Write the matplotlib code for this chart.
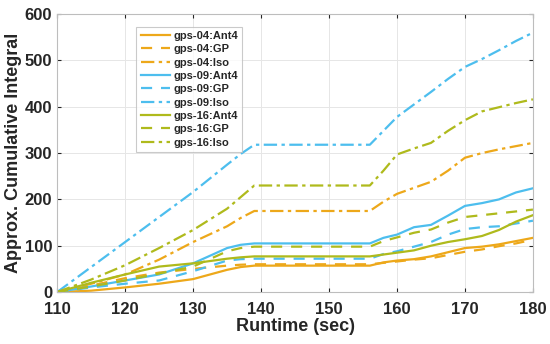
import matplotlib
matplotlib.use("Agg")
import matplotlib.pyplot as plt

# runtime samples (sec)
t = [110, 115, 120, 125, 130, 135, 137, 139, 156, 158, 160, 162.5, 165, 167.5, 170, 172.5, 175, 177.5, 180]

# cumulative integrals
gps04_ant4 = [0, 3, 10, 18, 28, 48, 54, 57, 57, 64, 68, 71, 77, 86, 95, 98, 103, 110, 117]
gps04_gp   = [0, 14, 30, 42, 50, 57, 59, 60, 60, 63, 66, 70, 73, 80, 87, 92, 99, 105, 113]
gps04_iso  = [0, 18, 38, 70, 108, 142, 160, 175, 175, 195, 212, 225, 238, 262, 290, 300, 308, 315, 322]
gps09_ant4 = [0, 12, 25, 38, 62, 95, 102, 105, 105, 117, 124, 140, 145, 165, 186, 192, 200, 215, 224]
gps09_gp   = [0, 10, 18, 25, 45, 68, 71, 72, 72, 82, 88, 98, 108, 124, 136, 140, 142, 148, 154]
gps09_iso  = [0, 54, 108, 162, 216, 275, 298, 318, 318, 348, 378, 405, 432, 460, 486, 503, 522, 542, 560]
gps16_ant4 = [0, 20, 38, 55, 62, 72, 75, 77, 77, 81, 85, 90, 100, 108, 114, 121, 134, 152, 166]
gps16_gp   = [0, 12, 25, 40, 55, 88, 95, 98, 98, 110, 118, 128, 135, 150, 162, 166, 170, 174, 178]
gps16_iso  = [0, 27, 58, 95, 134, 180, 205, 230, 230, 262, 297, 310, 322, 348, 371, 390, 399, 408, 416]

orange = "#EDA81A"
blue = "#4DBEEE"
green = "#AFBA1C"

plt.rcParams['font.family'] = ['Liberation Sans', 'DejaVu Sans']
plt.rcParams['font.weight'] = 'bold'

fig = plt.figure(figsize=(5.5, 3.44), dpi=100)
ax = fig.add_axes([0.104, 0.151, 0.865, 0.808])

lw = 1.6
ax.plot(t, gps04_ant4, color=orange, lw=lw, ls='-', label='gps-04:Ant4')
ax.plot(t, gps04_gp, color=orange, lw=lw, ls=(0, (5, 4)), label='gps-04:GP')
ax.plot(t, gps04_iso, color=orange, lw=lw, ls=(0, (6, 2, 1.5, 2)), label='gps-04:Iso')
ax.plot(t, gps09_ant4, color=blue, lw=lw, ls='-', label='gps-09:Ant4')
ax.plot(t, gps09_gp, color=blue, lw=lw, ls=(0, (5, 4)), label='gps-09:GP')
ax.plot(t, gps09_iso, color=blue, lw=lw, ls=(0, (6, 2, 1.5, 2)), label='gps-09:Iso')
ax.plot(t, gps16_ant4, color=green, lw=lw, ls='-', label='gps-16:Ant4')
ax.plot(t, gps16_gp, color=green, lw=lw, ls=(0, (5, 4)), label='gps-16:GP')
ax.plot(t, gps16_iso, color=green, lw=lw, ls=(0, (6, 2, 1.5, 2)), label='gps-16:Iso')

ax.set_xlim(110, 180)
ax.set_ylim(0, 600)
ax.set_xticks(range(110, 181, 10))
ax.set_yticks(range(0, 601, 100))
ax.grid(True, color='#e6e6e6', lw=0.7)
ax.set_axisbelow(True)
ax.tick_params(direction='in', length=3, labelsize=12, colors='#262626', top=True, right=True)
ax.tick_params(axis='x', pad=7)
for s in ax.spines.values():
    s.set_color('#bdbdbd')
    s.set_linewidth(0.8)
for lab in ax.get_xticklabels() + ax.get_yticklabels():
    lab.set_fontweight('bold')

ax.set_xlabel('Runtime (sec)', fontsize=13, fontweight='bold', color='#262626', labelpad=1)
ax.set_ylabel('Approx. Cumulative Integral', fontsize=13, fontweight='bold', color='#262626', labelpad=2)

leg = ax.legend(loc='upper left', bbox_to_anchor=(0.155, 0.975), fontsize=8, frameon=True,
                fancybox=False, edgecolor='#bdbdbd', handlelength=2.6, handletextpad=0.3,
                labelspacing=0.3, borderpad=0.4)
leg.get_frame().set_linewidth(0.8)
for txt in leg.get_texts():
    txt.set_fontweight('bold')
    txt.set_color('#262626')

fig.savefig('out.png', dpi=100)
